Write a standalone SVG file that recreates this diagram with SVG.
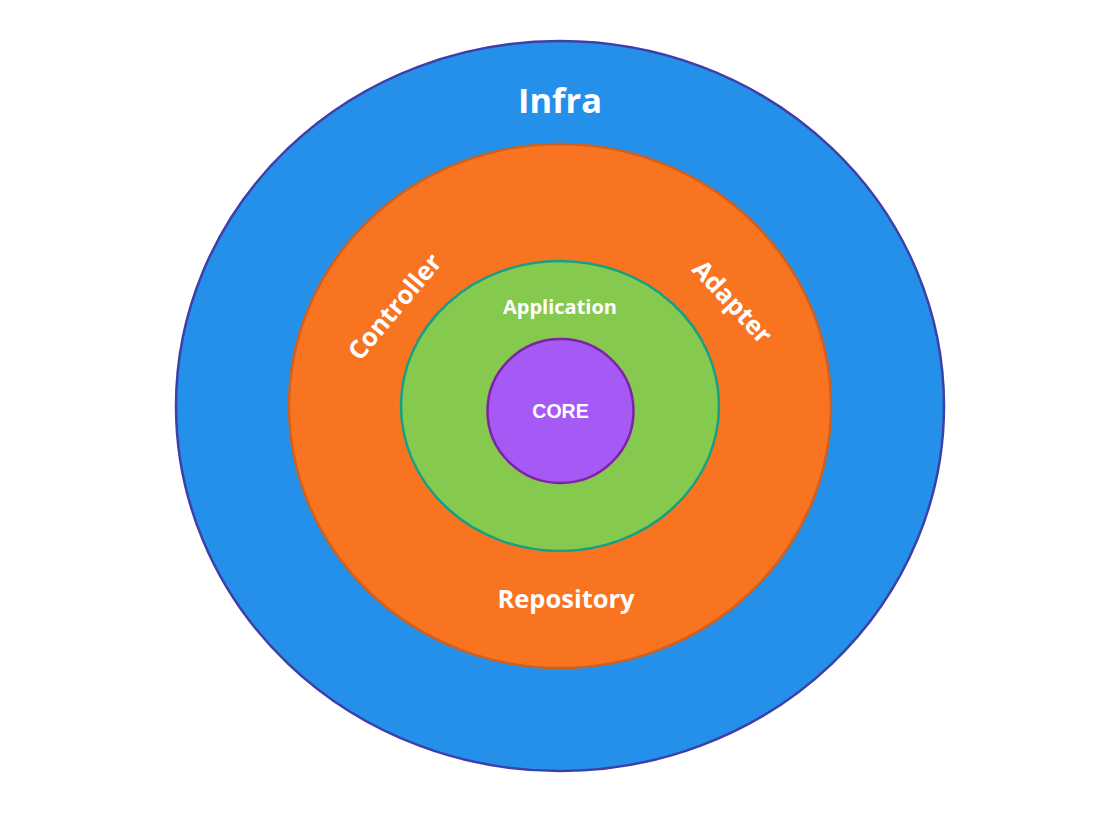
<svg xmlns="http://www.w3.org/2000/svg" width="1103" height="817" viewBox="0 0 1103 817">
<style>
.lbl{font-family:"Open Sans","DejaVu Sans",sans-serif;font-weight:bold;fill:#ffffff;text-anchor:middle}
.core{font-family:"Liberation Sans",Arial,sans-serif;font-weight:bold;fill:#ffffff;text-anchor:middle}
</style>
<rect width="1103" height="817" fill="#ffffff"/>
<g id="infra">
<ellipse cx="560" cy="406" rx="384" ry="365" fill="#2590E9" stroke="#3D40A8" stroke-width="2.5"/>
<text class="lbl" x="560" y="113" font-size="34.5">Infra</text>
</g>
<g id="adapters">
<ellipse cx="560" cy="406" rx="271" ry="262" fill="#F97420" stroke="#D0601E" stroke-width="2.5"/>
<text class="lbl" font-size="25.5" transform="translate(395,307) rotate(-50)" y="8.5">Controller</text>
<text class="lbl" font-size="25.5" transform="translate(732,302) rotate(47)" y="8.5">Adapter</text>
<text class="lbl" x="566" y="608" font-size="25.5">Repository</text>
</g>
<g id="application">
<ellipse cx="560" cy="406" rx="159" ry="145" fill="#86C94F" stroke="#15A085" stroke-width="2.5"/>
<text class="lbl" x="560" y="314" font-size="20">Application</text>
</g>
<g id="core">
<ellipse cx="560.5" cy="411" rx="73" ry="72" fill="#A65AF5" stroke="#7E22A8" stroke-width="2.5"/>
<text class="core" x="560.5" y="418" font-size="19.5">CORE</text>
</g>
<g id="connectors"/>
</svg>
